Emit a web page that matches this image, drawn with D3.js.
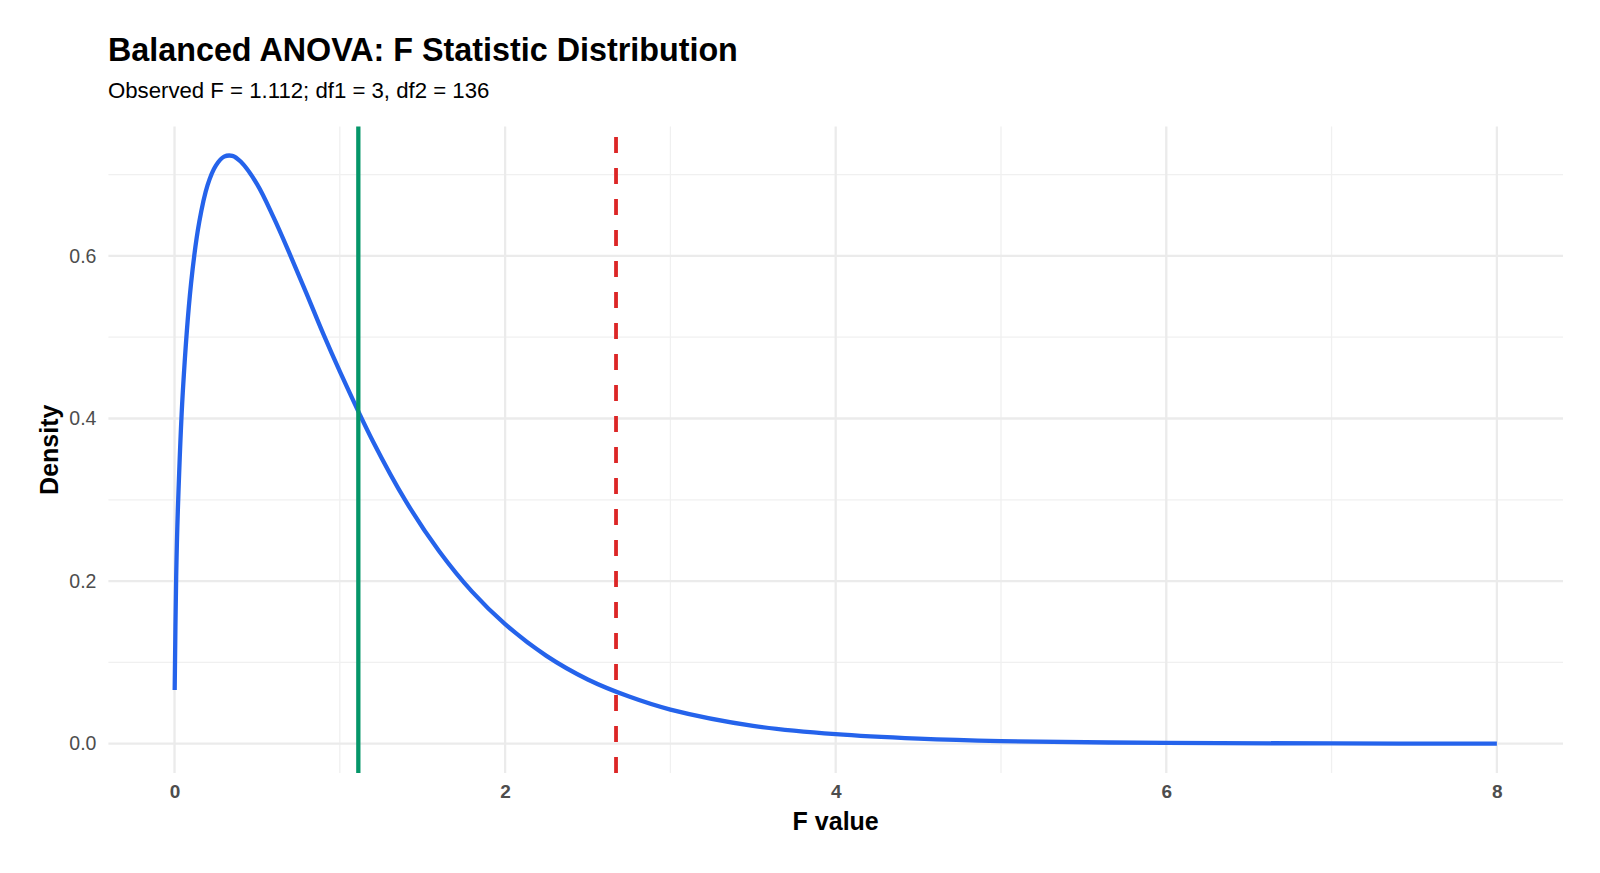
<!DOCTYPE html>
<html>
<head>
<meta charset="utf-8">
<script src="https://cdn.jsdelivr.net/npm/d3@7"></script>
<style>
  body { margin: 0; background: #fff; }
  text { font-family: "Liberation Sans", Arial, Helvetica, sans-serif; }
</style>
</head>
<body>
<svg width="1600" height="873"></svg>
<script>
// F value positions and density
var fValues = [0.001, 0.01, 0.02, 0.05, 0.1, 0.15, 0.2, 0.25, 0.3, 0.35, 0.4, 0.5, 0.6, 0.7, 0.8, 0.9,
    1.0, 1.2, 1.4, 1.6, 1.8, 2.0, 2.25, 2.5, 2.75, 3.0, 3.5, 4.0, 4.5, 5.0, 6.0, 7.0, 8.0];
var density = [0.066, 0.205, 0.286, 0.432, 0.566, 0.642, 0.687, 0.711, 0.722, 0.723, 0.716, 0.688, 0.647, 0.601, 0.553, 0.504,
    0.458, 0.372, 0.298, 0.237, 0.187, 0.147, 0.108, 0.079, 0.058, 0.042, 0.022, 0.0117, 0.0062, 0.0032, 0.0009, 0.0003, 0.0001];
var observedF = 1.112;
var criticalF = 2.671;
var xTicks = [0, 2, 4, 6, 8];
var xMinor = [1, 3, 5, 7];
var yTicks = [0, 0.2, 0.4, 0.6];
var yMinor = [0.1, 0.3, 0.5, 0.7];

var svg = d3.select('svg');
var pLeft = 108.4, pRight = 1563, pTop = 126.5, pBottom = 773;

var points = fValues.map(function(f, i){ return {x: f, y: density[i]}; });

var xExt = [0, 8];
var yExt = d3.extent(density);
var xPad = (xExt[1] - xExt[0]) * 0.05;
var yPad = (yExt[1] - yExt[0]) * 0.05;

var ScaleX = d3.scaleLinear().domain([xExt[0] - xPad, xExt[1] + xPad]).range([pLeft, pRight]);
var ScaleY = d3.scaleLinear().domain([yExt[0] - yPad, yExt[1] + yPad]).range([pBottom, pTop]);

var grid = svg.append('g');
grid.selectAll('.ymin').data(yMinor).enter().append('line')
    .attr('x1', pLeft).attr('x2', pRight)
    .attr('y1', function(d){ return ScaleY(d); })
    .attr('y2', function(d){ return ScaleY(d); })
    .attr('stroke', '#f0f0f0').attr('stroke-width', 1.3);
grid.selectAll('.xmin').data(xMinor).enter().append('line')
    .attr('y1', pTop).attr('y2', pBottom)
    .attr('x1', function(d){ return ScaleX(d); })
    .attr('x2', function(d){ return ScaleX(d); })
    .attr('stroke', '#f0f0f0').attr('stroke-width', 1.3);
grid.selectAll('.ymaj').data(yTicks).enter().append('line')
    .attr('x1', pLeft).attr('x2', pRight)
    .attr('y1', function(d){ return ScaleY(d); })
    .attr('y2', function(d){ return ScaleY(d); })
    .attr('stroke', '#ebebeb').attr('stroke-width', 2.3);
grid.selectAll('.xmaj').data(xTicks).enter().append('line')
    .attr('y1', pTop).attr('y2', pBottom)
    .attr('x1', function(d){ return ScaleX(d); })
    .attr('x2', function(d){ return ScaleX(d); })
    .attr('stroke', '#ebebeb').attr('stroke-width', 2.3);

var line = d3.line()
    .x(function(d){ return ScaleX(d.x); })
    .y(function(d){ return ScaleY(d.y); })
    .curve(d3.curveCatmullRom.alpha(0.5));

svg.append('path')
    .datum(points)
    .attr('d', line)
    .attr('fill', 'none')
    .attr('stroke', '#2563eb')
    .attr('stroke-width', 4.3);

svg.append('line')
    .attr('x1', ScaleX(observedF)).attr('x2', ScaleX(observedF))
    .attr('y1', pBottom).attr('y2', pTop)
    .attr('stroke', '#059669')
    .attr('stroke-width', 4.3);

svg.append('line')
    .attr('x1', ScaleX(criticalF)).attr('x2', ScaleX(criticalF))
    .attr('y1', pBottom).attr('y2', pTop)
    .attr('stroke', '#dc2626')
    .attr('stroke-width', 3.8)
    .attr('stroke-dasharray', '16,15');

// axes: labels only, like theme_minimal
var xAxis = svg.append('g')
    .attr('transform', 'translate(0,' + pBottom + ')')
    .call(d3.axisBottom(ScaleX).tickValues(xTicks).tickSize(0).tickPadding(12).tickFormat(d3.format('d')));
xAxis.select('.domain').remove();
xAxis.selectAll('text')
    .attr('font-size', 19).attr('font-weight', 'bold').attr('fill', '#4d4d4d')
    .attr('font-family', '"Liberation Sans", Arial, sans-serif');

var yAxis = svg.append('g')
    .attr('transform', 'translate(' + pLeft + ',0)')
    .call(d3.axisLeft(ScaleY).tickValues(yTicks).tickSize(0).tickPadding(12).tickFormat(d3.format('.1f')));
yAxis.select('.domain').remove();
yAxis.selectAll('text')
    .attr('font-size', 19.5).attr('fill', '#4d4d4d')
    .attr('font-family', '"Liberation Sans", Arial, sans-serif');

svg.append('text')
    .attr('x', 108)
    .attr('y', 61)
    .attr('font-size', 32.3)
    .attr('font-weight', 'bold')
    .text('Balanced ANOVA: F Statistic Distribution');

svg.append('text')
    .attr('x', 108)
    .attr('y', 98)
    .attr('font-size', 22.2)
    .text('Observed F = 1.112; df1 = 3, df2 = 136');

svg.append('text')
    .attr('x', (pLeft + pRight) / 2)
    .attr('y', 830)
    .attr('text-anchor', 'middle')
    .attr('font-size', 25)
    .attr('font-weight', 'bold')
    .text('F value');

svg.append('text')
    .attr('transform', 'rotate(270)')
    .attr('x', -(pTop + pBottom) / 2)
    .attr('y', 58)
    .attr('text-anchor', 'middle')
    .attr('font-size', 25)
    .attr('font-weight', 'bold')
    .text('Density');
</script>
</body>
</html>
